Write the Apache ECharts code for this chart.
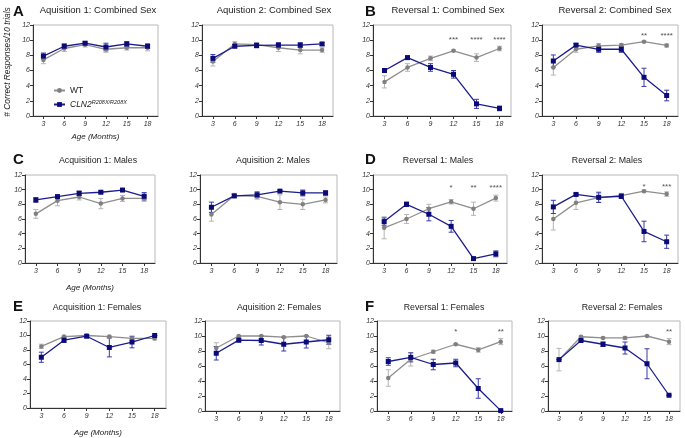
<!DOCTYPE html>
<html><head><meta charset="utf-8">
<script src="https://cdn.jsdelivr.net/npm/echarts@6/dist/echarts.min.js"></script>
<style>html,body{margin:0;padding:0;background:#fff}#c{width:685px;height:438px}</style>
</head><body><div id="c"></div>
<script>
// ---- data ----
const months = [3, 6, 9, 12, 15, 18];
const seriesNames = ['WT', 'CLN2'];

const acq1CombWT = [7.4, 8.9, 9.4, 8.8, 9.0, 9.0];
const acq1CombWTErr = [0.5, 0.4, 0.3, 0.4, 0.3, 0.4];
const acq1CombCLN = [7.9, 9.2, 9.6, 9.1, 9.5, 9.2];
const acq1CombCLNErr = [0.4, 0.3, 0.2, 0.5, 0.3, 0.3];
const acq1CombStars = ['', '', '', '', '', ''];

const acq2CombWT = [7.2, 9.5, 9.4, 9.0, 8.7, 8.7];
const acq2CombWTErr = [0.6, 0.3, 0.3, 0.5, 0.5, 0.3];
const acq2CombCLN = [7.6, 9.2, 9.3, 9.35, 9.35, 9.5];
const acq2CombCLNErr = [0.5, 0.2, 0.3, 0.3, 0.3, 0.2];
const acq2CombStars = ['', '', '', '', '', ''];

const rev1CombWT = [4.5, 6.4, 7.6, 8.6, 7.7, 8.9];
const rev1CombWTErr = [0.8, 0.5, 0.3, 0.1, 0.5, 0.3];
const rev1CombCLN = [6.0, 7.7, 6.4, 5.5, 1.6, 1.0];
const rev1CombCLNErr = [0.2, 0.2, 0.5, 0.5, 0.6, 0.3];
const rev1CombStars = ['', '', '', '***', '****', '****'];

const rev2CombWT = [6.4, 8.8, 9.25, 9.35, 9.8, 9.3];
const rev2CombWTErr = [1.0, 0.4, 0.3, 0.2, 0.1, 0.2];
const rev2CombCLN = [7.25, 9.35, 8.8, 8.8, 5.1, 2.7];
const rev2CombCLNErr = [0.8, 0.2, 0.4, 0.4, 1.2, 0.7];
const rev2CombStars = ['', '', '', '', '**', '****'];

const acq1MaleWT = [6.7, 8.5, 9.0, 8.1, 8.8, 8.8];
const acq1MaleWTErr = [0.6, 0.7, 0.4, 0.7, 0.4, 0.4];
const acq1MaleCLN = [8.6, 9.05, 9.5, 9.65, 9.95, 9.1];
const acq1MaleCLNErr = [0.3, 0.2, 0.3, 0.15, 0.1, 0.5];
const acq1MaleStars = ['', '', '', '', '', ''];

const acq2MaleWT = [6.6, 9.2, 9.1, 8.3, 8.0, 8.6];
const acq2MaleWTErr = [0.9, 0.3, 0.4, 1.0, 0.7, 0.4];
const acq2MaleCLN = [7.6, 9.15, 9.3, 9.8, 9.55, 9.55];
const acq2MaleCLNErr = [0.7, 0.2, 0.4, 0.1, 0.4, 0.3];
const acq2MaleStars = ['', '', '', '', '', ''];

const rev1MaleWT = [4.8, 6.0, 7.4, 8.35, 7.4, 8.85];
const rev1MaleWTErr = [1.5, 0.6, 0.6, 0.3, 0.9, 0.4];
const rev1MaleCLN = [5.65, 8.0, 6.65, 5.0, 0.6, 1.25];
const rev1MaleCLNErr = [0.5, 0.3, 0.9, 0.8, 0.1, 0.4];
const rev1MaleStars = ['', '', '', '*', '**', '****'];

const rev2MaleWT = [6.0, 8.2, 8.9, 9.2, 9.8, 9.4];
const rev2MaleWTErr = [1.5, 0.9, 0.6, 0.3, 0.15, 0.3];
const rev2MaleCLN = [7.65, 9.35, 8.95, 9.1, 4.3, 2.9];
const rev2MaleCLNErr = [0.9, 0.15, 0.7, 0.3, 1.4, 0.9];
const rev2MaleStars = ['', '', '', '', '*', '***'];

const acq1FemWT = [8.5, 9.85, 10.0, 9.85, 9.6, 9.6];
const acq1FemWTErr = [0.3, 0.1, 0.1, 0.1, 0.2, 0.2];
const acq1FemCLN = [7.0, 9.35, 9.9, 8.35, 9.1, 10.0];
const acq1FemCLNErr = [0.7, 0.3, 0.15, 1.3, 0.8, 0.0];
const acq1FemStars = ['', '', '', '', '', ''];

const acq2FemWT = [8.4, 10.0, 10.0, 9.85, 10.0, 9.1];
const acq2FemWTErr = [0.7, 0.0, 0.0, 0.1, 0.0, 0.8];
const acq2FemCLN = [7.7, 9.45, 9.4, 8.9, 9.2, 9.5];
const acq2FemCLNErr = [0.9, 0.25, 0.6, 0.9, 0.8, 0.6];
const acq2FemStars = ['', '', '', '', '', ''];

const rev1FemWT = [4.4, 6.9, 7.9, 8.9, 8.15, 9.25];
const rev1FemWTErr = [1.1, 0.9, 0.2, 0.1, 0.3, 0.4];
const rev1FemCLN = [6.6, 7.15, 6.2, 6.4, 3.0, 0.05];
const rev1FemCLNErr = [0.5, 0.6, 0.7, 0.5, 1.3, 0.0];
const rev1FemStars = ['', '', '', '*', '', '**'];

const rev2FemWT = [6.85, 9.9, 9.75, 9.75, 10.0, 9.25];
const rev2FemWTErr = [1.5, 0.1, 0.1, 0.2, 0.0, 0.4];
const rev2FemCLN = [6.85, 9.4, 8.9, 8.4, 6.3, 2.1];
const rev2FemCLNErr = [0.0, 0.1, 0.3, 0.8, 2.0, 0.0];
const rev2FemStars = ['', '', '', '', '', '**'];

// ---- layout ----
const FONT = '"Liberation Sans", Arial, sans-serif';
const panels = [
  {title:'Aquisition 1: Combined Sex', wt:acq1CombWT, wtE:acq1CombWTErr, cl:acq1CombCLN, clE:acq1CombCLNErr, st:acq1CombStars, g:[33,25,125,91], tx:93, ty:0, ts:9.5, age:17, letter:'A', lx:8, ly:-1},
  {title:'Aquistion 2: Combined Sex', wt:acq2CombWT, wtE:acq2CombWTErr, cl:acq2CombCLN, clE:acq2CombCLNErr, st:acq2CombStars, g:[202,25,131,91], tx:269, ty:0, ts:9.5},
  {title:'Reversal 1: Combined Sex', wt:rev1CombWT, wtE:rev1CombWTErr, cl:rev1CombCLN, clE:rev1CombCLNErr, st:rev1CombStars, sy:10.1, g:[373,25,138,91], tx:443, ty:0, ts:9.5, letter:'B', lx:360, ly:-1},
  {title:'Reversal 2: Combined Sex', wt:rev2CombWT, wtE:rev2CombWTErr, cl:rev2CombCLN, clE:rev2CombCLNErr, st:rev2CombStars, sy:10.6, g:[542,25,136,91], tx:610, ty:0, ts:9.5},
  {title:'Acquisition 1: Males', wt:acq1MaleWT, wtE:acq1MaleWTErr, cl:acq1MaleCLN, clE:acq1MaleCLNErr, st:acq1MaleStars, g:[25,175,130,88], tx:93, ty:151, ts:8.8, age:21, letter:'C', lx:8, ly:147},
  {title:'Aquisition 2: Males', wt:acq2MaleWT, wtE:acq2MaleWTErr, cl:acq2MaleCLN, clE:acq2MaleCLNErr, st:acq2MaleStars, g:[200,175,137,88], tx:268, ty:151, ts:8.8},
  {title:'Reversal 1: Males', wt:rev1MaleWT, wtE:rev1MaleWTErr, cl:rev1MaleCLN, clE:rev1MaleCLNErr, st:rev1MaleStars, sy:10.2, g:[373,175,134,88], tx:433, ty:151, ts:8.8, letter:'D', lx:360, ly:147},
  {title:'Reversal 2: Males', wt:rev2MaleWT, wtE:rev2MaleWTErr, cl:rev2MaleCLN, clE:rev2MaleCLNErr, st:rev2MaleStars, sy:10.4, g:[542,175,136,88], tx:602, ty:151, ts:8.8},
  {title:'Acquisition 1: Females', wt:acq1FemWT, wtE:acq1FemWTErr, cl:acq1FemCLN, clE:acq1FemCLNErr, st:acq1FemStars, g:[30,321,136,90], tx:92, ty:298, ts:8.8, age:21, letter:'E', lx:8, ly:294},
  {title:'Aquisition 2: Females', wt:acq2FemWT, wtE:acq2FemWTErr, cl:acq2FemCLN, clE:acq2FemCLNErr, st:acq2FemStars, g:[205,321,135,90], tx:274, ty:298, ts:8.8},
  {title:'Reversal 1: Females', wt:rev1FemWT, wtE:rev1FemWTErr, cl:rev1FemCLN, clE:rev1FemCLNErr, st:rev1FemStars, sy:10.5, g:[377,321,135,90], tx:439, ty:298, ts:8.8, letter:'F', lx:360, ly:294},
  {title:'Reversal 2: Females', wt:rev2FemWT, wtE:rev2FemWTErr, cl:rev2FemCLN, clE:rev2FemCLNErr, st:rev2FemStars, sy:10.5, g:[548,321,132,90], tx:617, ty:298, ts:8.8}
];

const WT_LINE = '#8e8e8e', WT_MARK = '#808080', WT_ERR = '#b4b4b4';
const CL_LINE = '#1c1c8c', CL_MARK = '#0b0b78', CL_ERR = '#3a3aa6';
const AXIS = '#333';

function errRender(color) {
  return function (params, api) {
    const x = api.value(0), y = api.value(1), e = api.value(2);
    const hi = api.coord([x, y + e]), lo = api.coord([x, y - e]);
    const w = 2.5, st = {stroke: color, lineWidth: 1};
    return {type: 'group', children: [
      {type: 'line', shape: {x1: hi[0], y1: hi[1], x2: lo[0], y2: lo[1]}, style: st},
      {type: 'line', shape: {x1: hi[0] - w, y1: hi[1], x2: hi[0] + w, y2: hi[1]}, style: st},
      {type: 'line', shape: {x1: lo[0] - w, y1: lo[1], x2: lo[0] + w, y2: lo[1]}, style: st}
    ]};
  };
}

const option = {
  animation: false,
  backgroundColor: '#fff',
  grid: [], xAxis: [], yAxis: [], series: [], title: [],
  legend: {
    data: seriesNames, orient: 'vertical', left: 48, top: 81, selectedMode: false,
    itemWidth: 11, itemHeight: 6, itemGap: 4,
    formatter: n => n === 'CLN2' ? '{i|CLN2}{s|R208X/R208X}' : n,
    textStyle: {fontSize: 8.5, color: '#222', fontFamily: FONT,
      rich: {i: {fontStyle: 'italic', fontSize: 8.5, fontFamily: FONT, color: '#222'},
             s: {fontStyle: 'italic', fontSize: 5.5, fontFamily: FONT, color: '#222', verticalAlign: 'top', padding: [0, 0, 5, 0]}}}
  },
  graphic: [{type: 'text', x: 8, y: 62, rotation: Math.PI / 2,
    style: {text: '# Correct Responses/10 trials', font: 'italic 8.3px ' + FONT, fill: '#222', align: 'center', verticalAlign: 'middle'}}]
};

panels.forEach((p, i) => {
  option.grid.push({left: p.g[0], top: p.g[1], width: p.g[2], height: p.g[3], show: true, borderColor: '#b8b8b8', borderWidth: 1});
  option.xAxis.push({
    gridIndex: i, type: 'value', min: 1.5, max: 19.5, splitLine: {show: false},
    axisLine: {lineStyle: {color: AXIS, width: 1}},
    axisTick: {customValues: months, length: 3, lineStyle: {color: AXIS}},
    axisLabel: {customValues: months, fontSize: 7, fontStyle: 'italic', color: '#333', margin: 5, fontFamily: FONT},
    name: p.age ? 'Age (Months)' : '', nameLocation: 'middle', nameGap: p.age || 15,
    nameTextStyle: {fontSize: 8, fontStyle: 'italic', color: '#222', fontFamily: FONT}
  });
  option.yAxis.push({
    gridIndex: i, type: 'value', min: 0, max: 12, interval: 2, splitLine: {show: false},
    axisLine: {show: true, lineStyle: {color: AXIS, width: 1}},
    axisTick: {show: true, length: 3, lineStyle: {color: AXIS}},
    axisLabel: {fontSize: 7, fontStyle: 'italic', color: '#333', margin: 3, fontFamily: FONT}
  });
  option.title.push({text: p.title, left: p.tx, top: p.ty, textAlign: 'center',
    textStyle: {fontSize: p.ts, fontWeight: 'normal', color: '#222', fontFamily: FONT}});
  if (p.letter) option.title.push({text: p.letter, left: p.lx, top: p.ly,
    textStyle: {fontSize: 15, fontWeight: 'bold', color: '#111', fontFamily: FONT}});

  option.series.push({type: 'custom', name: 'WT-err', xAxisIndex: i, yAxisIndex: i, silent: true, z: 1,
    encode: {x: 0, y: 1}, renderItem: errRender(WT_ERR),
    data: months.map((m, j) => [m, p.wt[j], p.wtE[j]])});
  option.series.push({type: 'custom', name: 'CLN2-err', xAxisIndex: i, yAxisIndex: i, silent: true, z: 1,
    encode: {x: 0, y: 1}, renderItem: errRender(CL_ERR),
    data: months.map((m, j) => [m, p.cl[j], p.clE[j]])});
  option.series.push({type: 'line', name: 'WT', xAxisIndex: i, yAxisIndex: i, z: 3,
    symbol: 'circle', symbolSize: 4.5, lineStyle: {color: WT_LINE, width: 1.3}, itemStyle: {color: WT_MARK},
    data: months.map((m, j) => [m, p.wt[j]])});
  option.series.push({type: 'line', name: 'CLN2', xAxisIndex: i, yAxisIndex: i, z: 4,
    symbol: 'rect', symbolSize: 5, lineStyle: {color: CL_LINE, width: 1.3}, itemStyle: {color: CL_MARK},
    data: months.map((m, j) => [m, p.cl[j]])});
  const stars = months.map((m, j) => p.st[j] ? [m, p.sy, p.st[j]] : null).filter(Boolean);
  if (stars.length) option.series.push({type: 'scatter', name: 'sig', xAxisIndex: i, yAxisIndex: i, silent: true, z: 5,
    symbolSize: 1, itemStyle: {color: 'rgba(0,0,0,0)'},
    label: {show: true, position: 'inside', formatter: d => d.value[2], fontSize: 8, color: '#222', fontFamily: FONT},
    data: stars});
});

const chart = echarts.init(document.getElementById('c'), null, {renderer: 'canvas'});
chart.setOption(option);
</script>
</body></html>
